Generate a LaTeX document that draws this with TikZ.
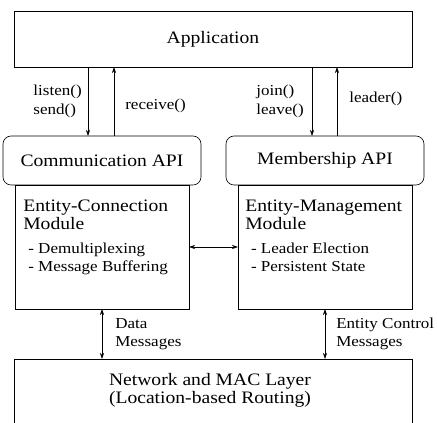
\documentclass[tikz,border=0pt]{standalone}
\usepackage{fontspec}
\setmainfont[FakeStretch=1.12]{Liberation Serif}
\usetikzlibrary{arrows.meta,calc,positioning}
\newcommand{\bigfont}{\fontsize{17.5}{18.5}\selectfont}
\newcommand{\smallfont}{\fontsize{15.2}{18.6}\selectfont}
\tikzset{box/.style={draw, rectangle, inner sep=0pt, outer sep=0pt, line width=0.6pt}}
\tikzstyle{api}=[box, rounded corners=8pt, minimum width=198pt, minimum height=49pt, font=\bigfont]
\tikzstyle{modbox}=[box, minimum width=174pt, minimum height=124pt]
\tikzstyle{lbl}=[inner sep=0pt, font=\smallfont, align=left]

\begin{document}
\begin{tikzpicture}[x=1pt, y=1pt, >={Stealth[length=6pt, width=4pt, inset=2pt]}, line width=0.6pt, node distance=0pt]
\useasboundingbox (0,0) rectangle (437,423);
\node[box, minimum width=398pt, minimum height=56pt, font=\bigfont] (app) at (213,384) {Application};
\node[api] (capi) at (102,262.5) {Communication API};
\node[api] (mapi) at (325,262.5) {Membership API};
\node[modbox, below=of capi] (ecm) {};
\node[modbox, below=of mapi] (emm) {};
\node[box, minimum width=398pt, minimum height=100pt, anchor=north] (net) at (213,64) {};

% module texts
\node[lbl, font=\bigfont, anchor=north west] (ecmtitle) at ($(ecm.north west)+(8,-14.3)$) {Entity-Connection\\Module};
\node[lbl, anchor=north west] (ecmlist) at ($(ecm.north west)+(13,-57.3)$) {- Demultiplexing\\- Message Buffering};
\node[lbl, font=\bigfont, anchor=north west] (emmtitle) at ($(emm.north west)+(7,-14.3)$) {Entity-Management\\Module};
\node[lbl, anchor=north west] (emmlist) at ($(emm.north west)+(12.7,-57.3)$) {- Leader Election\\- Persistent State};
\node[lbl, font=\bigfont, align=center, below=14pt of net.north, xshift=-3pt] (nettxt) {Network and MAC Layer\\(Location-based Routing)};

% api calls
\coordinate (c1) at ([xshift=-14pt]capi.north);
\coordinate (c2) at ([xshift=12pt]capi.north);
\coordinate (m1) at ([xshift=-13pt]mapi.north);
\coordinate (m2) at ([xshift=12pt]mapi.north);
\path[->] (app.south -| c1) edge node[lbl, left=6pt] {listen()\\send()} (c1)
  (c2) edge node[lbl, right=11pt, pos=0.43] {receive()} (app.south -| c2)
  (app.south -| m1) edge node[lbl, left=8pt] {join()\\leave()} (m1)
  (m2) edge node[lbl, right=12pt, pos=0.54] {leader()} (app.south -| m2);
\path[<->] (ecm.east) edge (emm.west)
  (ecm.south) edge node[lbl, right=13pt] {Data\\Messages} (ecm.south |- net.north)
  (emm.south) edge node[lbl, right=11pt] {Entity Control\\Messages} (emm.south |- net.north);
\end{tikzpicture}
\end{document}
